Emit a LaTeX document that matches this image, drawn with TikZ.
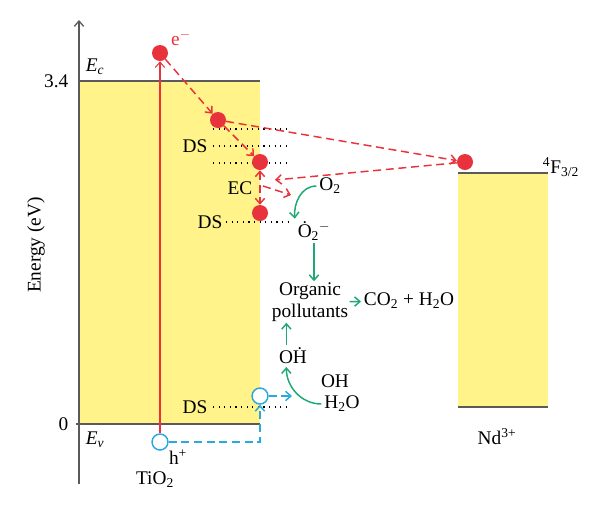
\documentclass[tikz,border=0pt]{standalone}
\usepackage{fontspec}
\setmainfont{Liberation Serif}
\usetikzlibrary{arrows.meta}
\definecolor{bandyellow}{HTML}{FFF38A}
\definecolor{elred}{HTML}{E8333C}
\definecolor{holeblue}{HTML}{2AA9E0}
\definecolor{reacgreen}{HTML}{1FA874}
\definecolor{levelgrey}{HTML}{5A5A5A}
\begin{document}
\begin{tikzpicture}[x=0.75pt, y=-0.75pt, >={Straight Barb[length=4pt,width=7pt]},
  every node/.style={font=\fontsize{14.5}{16}\selectfont},
  electron/.style={circle, fill=elred, inner sep=0pt, minimum size=12pt},
  hole/.style={circle, draw=holeblue, line width=1.1pt, fill=white, inner sep=0pt, minimum size=12pt},
  level/.style={levelgrey, line width=1.5pt},
  trap/.style={line width=0.9pt, dash pattern=on 0.9pt off 3.3pt},
  edash/.style={->, elred, line width=1.1pt, dash pattern=on 6pt off 3.5pt},
  hdash/.style={->, holeblue, line width=1.1pt, dash pattern=on 6pt off 3.5pt},
  react/.style={->, reacgreen, line width=1.1pt},
  species/.style={inner sep=2pt}]
\useasboundingbox (0,0) rectangle (600,515);
\fill[bandyellow] (79,81) rectangle (260,424);
\fill[bandyellow] (458,173) rectangle (548,407);
\draw[level] (79,81) -- (260,81);
\draw[level] (76,424) -- (260,424);
\draw[level] (458,173) -- (548,173);
\draw[level] (458,407) -- (548,407);
\draw[->, levelgrey, line width=1pt] (79,484) -- (79,20);
\node[anchor=east] (t34) at (73,81) {3.4};
\node[anchor=east] (t0) at (73,424) {0};
\node (ec) at (95,67) {\textit{E}\textsubscript{\textit{c}}};
\node (ev) at (95,440) {\textit{E}\textsubscript{\textit{v}}};
\node[rotate=90] (energy) at (36,245) {Energy (eV)};
\draw[trap] (213,129) -- (287,129);
\draw[trap] (213,146) -- (287,146);
\draw[trap] (213,163) -- (287,163);
\draw[trap] (226,222) -- (290,222);
\draw[trap] (213,407) -- (287,407);
\node (ds1) at (195,146) {DS};
\node (ds2) at (210,222) {DS};
\node (ds3) at (195,407) {DS};
\node (ecl) at (240,188) {EC};
\node[electron] (e0) at (160,53) {};
\node[electron] (e1) at (218,120) {};
\node[electron] (e2) at (260,162) {};
\node[electron] (e3) at (260,213) {};
\node[electron] (e4) at (465,162) {};
\node[hole] (h0) at (160,442) {};
\node[hole] (h1) at (260,396) {};
\coordinate (ndback) at (275,180);
\coordinate (ecstart) at (263,186);
\coordinate (ecout) at (291,195);
\coordinate (ohin) at (292,396);
\draw[->, elred, line width=0.8pt] (h0) -- (e0);
\draw[edash] (e0) -- (e1);
\draw[edash] (e1) -- (e2);
\draw[edash] (e1) -- (e4);
\draw[edash, <->] (e2) -- (e3);
\draw[edash] (e4) -- (ndback);
\draw[edash] (ecstart) -- (ecout);
\draw[hdash] (h0.east) -| (h1.south);
\draw[hdash] (h1) -- (ohin);
\node[text=elred] (elec) at (181,38) {e\textsuperscript{$-$}};
\node (hplus) at (178,457) {h\textsuperscript{+}};
\node (tio2) at (155,480) {TiO\textsubscript{2}};
\node (level) at (561,167) {\textsuperscript{4}F\textsubscript{3/2}};
\node (nd) at (497,437) {Nd\textsuperscript{3+}};
\node[species] (o2) at (330,186) {O\textsubscript{2}};
\node[species] (sup) at (314,231) {\.{O}\textsubscript{2}\textsuperscript{$-$}};
\node[species, align=center, inner sep=1pt, font=\fontsize{14.5}{16}\selectfont] (org) at (310,302) {Organic\\pollutants};
\node[species, anchor=west] (prod) at (361,301) {CO\textsubscript{2} + H\textsubscript{2}O};
\node[species] (oh) at (293,356) {O\.{H}};
\node (ohl) at (335,381) {OH};
\node[species] (water) at (342,404) {H\textsubscript{2}O};
\draw[react] (o2.west) to[out=180, in=95] (sup.north west);
\draw[react] (sup) -- (sup |- org.north);
\draw[react] (org) -- (prod);
\draw[react] ([xshift=-5]oh.north) -- ([xshift=-5]oh.north |- org.south);
\draw[react] (water.west) to[out=180, in=-90] ([xshift=-5]oh.south);
\end{tikzpicture}
\end{document}
